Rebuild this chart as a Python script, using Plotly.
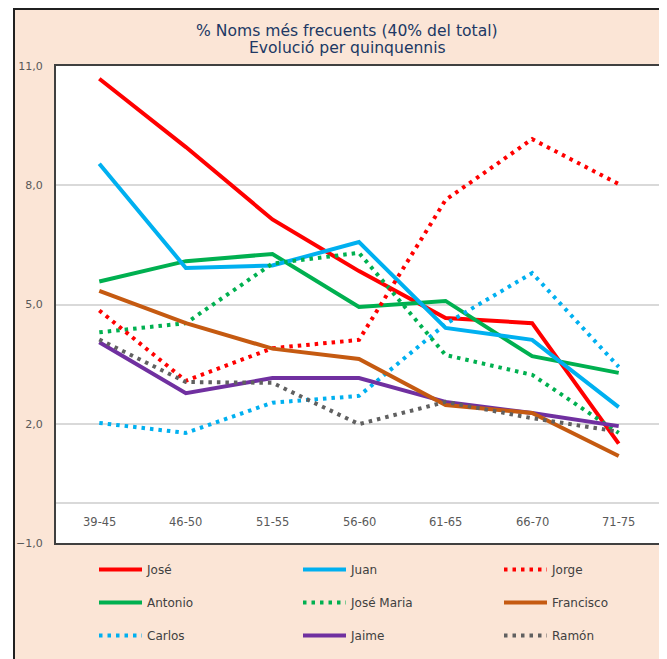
import plotly.graph_objects as go

# quinquennis (eix x)
periods = ["39-45", "46-50", "51-55", "56-60", "61-65", "66-70", "71-75"]

# % sobre el total, llegit del gràfic
jose = [10.68, 8.96, 7.14, 5.84, 4.66, 4.53, 1.50]
juan = [8.54, 5.92, 5.98, 6.57, 4.41, 4.11, 2.42]
jorge = [4.85, 3.08, 3.90, 4.11, 7.63, 9.16, 8.03]
antonio = [5.58, 6.09, 6.27, 4.94, 5.09, 3.70, 3.28]
jose_maria = [4.30, 4.53, 6.03, 6.30, 3.73, 3.23, 1.77]
francisco = [5.34, 4.53, 3.89, 3.63, 2.47, 2.27, 1.19]
carlos = [2.02, 1.77, 2.53, 2.70, 4.51, 5.79, 3.43]
jaime = [4.05, 2.77, 3.15, 3.15, 2.55, 2.27, 1.94]
ramon = [4.12, 3.05, 3.03, 1.99, 2.55, 2.14, 1.80]

title_lines = ["% Noms més frecuents (40% del total)", "Evolució per quinquennis"]

PEACH = "#FBE5D6"
DOT = "3.5px,5px"

# (nom, valors, color, estil, llegenda)
series = [
    ("José", jose, "#FF0000", "solid", "legend"),
    ("Antonio", antonio, "#00B050", "solid", "legend"),
    ("Carlos", carlos, "#00B0F0", DOT, "legend"),
    ("Juan", juan, "#00B0F0", "solid", "legend2"),
    ("José Maria", jose_maria, "#00B050", DOT, "legend2"),
    ("Jaime", jaime, "#7030A0", "solid", "legend2"),
    ("Jorge", jorge, "#FF0000", DOT, "legend3"),
    ("Francisco", francisco, "#C55A11", "solid", "legend3"),
    ("Ramón", ramon, "#606060", DOT, "legend3"),
]

fig = go.Figure()
for name, vals, color, dash, leg in series:
    fig.add_trace(go.Scatter(
        x=periods, y=vals, name=name, mode="lines",
        line=dict(color=color, width=4, dash=dash),
        legend=leg, legendgroup=name,
    ))

# la pàgina té 8px de marge al body: treballem en píxels de pantalla
OFF = 8
W, H = 667 - OFF, 659 - OFF
# àrea del gràfic en píxels de pantalla: x 56..662, y 66..543
L, R, T, B = 56 - OFF, 662 - OFF, 66 - OFF, 543 - OFF
pw, ph = R - L, B - T


def px_x(p):
    return (p - OFF - L) / pw


def px_y(p):
    return (B - (p - OFF)) / ph


leg_common = dict(
    orientation="v", yanchor="top", xanchor="left",
    bgcolor="rgba(0,0,0,0)", traceorder="grouped", tracegroupgap=14,
    font=dict(family="DejaVu Sans", size=12, color="#404040"),
    itemwidth=43,
)

# etiquetes de l'eix x dins de l'àrea, just sota la línia del zero
annotations = [
    dict(x=p, y=-0.47, xref="x", yref="y", text=p, showarrow=False,
         font=dict(family="DejaVu Sans", size=11.5, color="#595959"))
    for p in periods
]
for i, line in enumerate(title_lines):
    annotations.append(dict(
        x=px_x(347), xref="paper", y=px_y(31 + 17 * i), yref="paper",
        text=line, showarrow=False, xanchor="center", yanchor="middle",
        font=dict(family="DejaVu Sans", size=15.6, color="#203864"),
    ))

fig.update_layout(
    width=W, height=H,
    margin=dict(l=L, r=W - R, t=T, b=H - B, autoexpand=False),
    paper_bgcolor=PEACH,
    plot_bgcolor="white",
    separators=",.",
    font=dict(family="DejaVu Sans", color="#595959"),
    legend=dict(leg_common, x=px_x(94), y=px_y(555)),
    legend2=dict(leg_common, x=px_x(298), y=px_y(555)),
    legend3=dict(leg_common, x=px_x(499), y=px_y(555)),
    xaxis=dict(
        showline=True, mirror=True, linecolor="#404040", linewidth=2,
        showgrid=False, ticks="", showticklabels=False,
        range=[-0.5, 6.5],
    ),
    yaxis=dict(
        range=[-1, 11], tick0=-1, dtick=3, tickformat=".1f",
        showline=True, mirror=True, linecolor="#404040", linewidth=2,
        showgrid=True, gridcolor="#D9D9D9", gridwidth=1.5,
        zeroline=True, zerolinecolor="#D9D9D9", zerolinewidth=2,
        ticks="outside", ticklen=9, tickcolor=PEACH,
        tickfont=dict(size=11, color="#595959"),
    ),
    annotations=annotations,
    shapes=[
        # franja blanca a l'esquerra + vora exterior del gràfic
        dict(type="rect", xref="paper", yref="paper",
             x0=px_x(0), x1=px_x(13), y0=px_y(680), y1=px_y(0),
             fillcolor="white", line=dict(width=0)),
        dict(type="rect", xref="paper", yref="paper",
             x0=px_x(14), x1=px_x(665), y0=px_y(680), y1=px_y(9),
             fillcolor="rgba(0,0,0,0)", line=dict(color="#202020", width=2)),
    ],
)

fig.write_html("out.html")
